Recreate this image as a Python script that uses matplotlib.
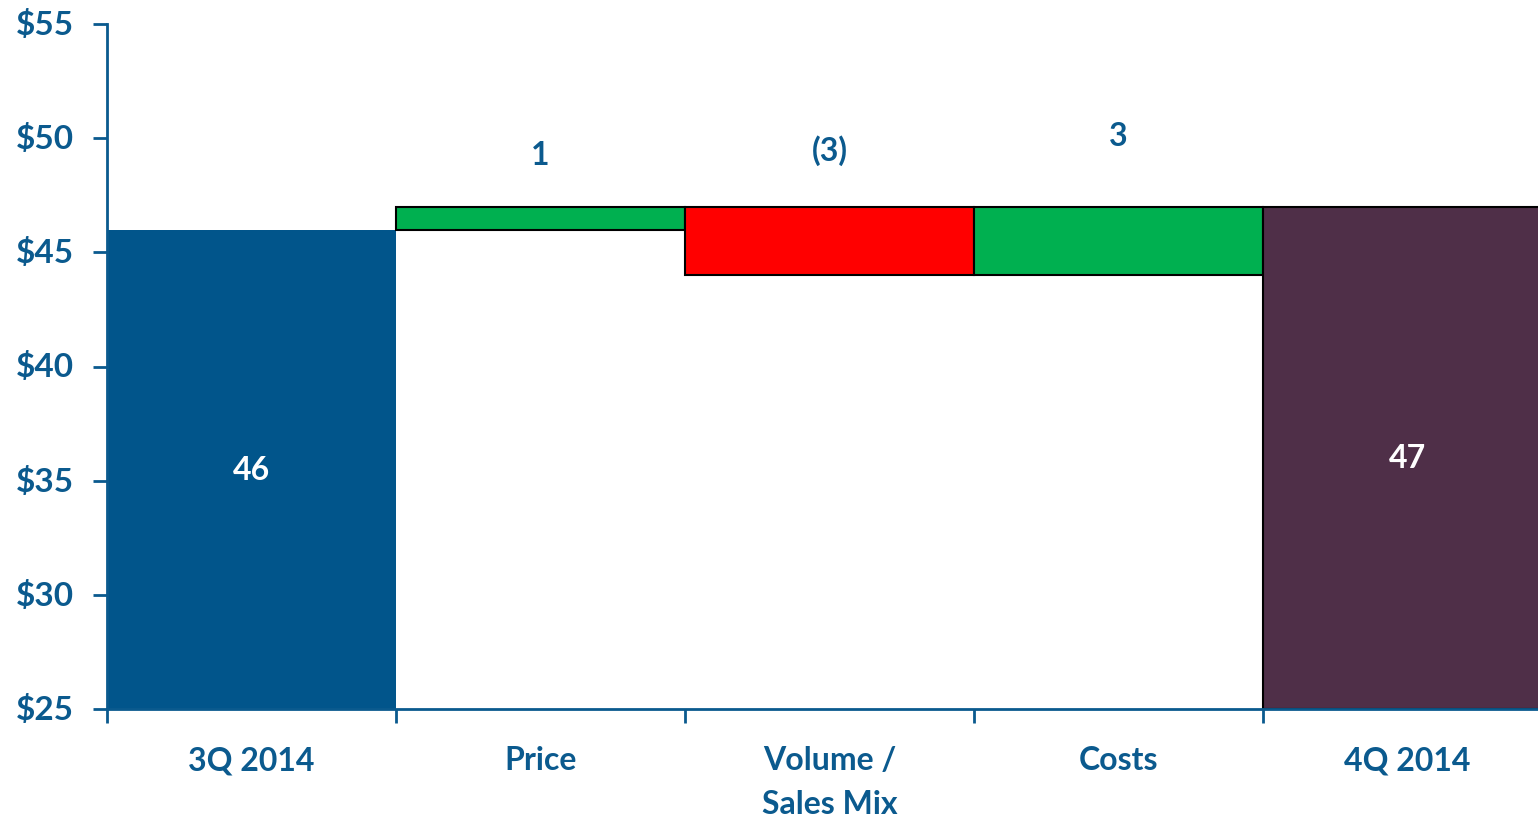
import numpy as np
import matplotlib.pyplot as plt

# Quarterly bridge: opening value, drivers, closing value
categories = ["3Q 2014", "Price", "Volume /\nSales Mix", "Costs", "4Q 2014"]
start_value = 46
changes = [1, -3, 3]
end_value = 47

text_blue = "#0B5A8E"
axis_blue = "#0A5A8E"
colors = ["#01558B", "#00B050", "#FF0000", "#00B050", "#4F2F48"]

plt.rcParams["font.family"] = ["Lato", "DejaVu Sans"]
plt.rcParams["font.weight"] = "bold"

# bottoms/heights of the floating bars
cum = start_value + np.cumsum([0] + changes)
bottoms = [25]
heights = [start_value - 25]
for prev, ch in zip(cum[:-1], changes):
    bottoms.append(min(prev, prev + ch))
    heights.append(abs(ch))
bottoms.append(25)
heights.append(end_value - 25)

fig = plt.figure(figsize=(15.38, 8.2), dpi=100)
ax = fig.add_axes([107 / 1538, 110 / 820, 1431 / 1538, 685 / 820])

x = np.arange(len(categories))
for i in range(len(categories)):
    edge = "none" if i == 0 else "black"
    ax.bar(x[i], heights[i], bottom=bottoms[i], width=1.0, color=colors[i],
           edgecolor=edge, linewidth=1.5, zorder=2)

fs = 23

# totals in white inside the bars
ax.text(x[0], 25 + heights[0] / 2, str(start_value), color="white",
        ha="center", va="center", fontsize=fs, fontweight="bold")
ax.text(x[-1], 25 + heights[-1] / 2, str(end_value), color="white",
        ha="center", va="center", fontsize=fs, fontweight="bold")

# driver labels above the bars
label_offsets = [2.3, 2.5, 3.1]
for i, ch in enumerate(changes):
    txt = f"({abs(ch)})" if ch < 0 else str(ch)
    top = max(cum[i], cum[i + 1])
    ax.text(x[i + 1], top + label_offsets[i], txt, color=text_blue,
            ha="center", va="center", fontsize=fs, fontweight="bold")

ax.set_ylim(25, 55)
ax.set_xlim(-0.5, -0.5 + 1431 / 289)
ax.set_yticks(np.arange(25, 56, 5))
ax.set_yticklabels([f"${v}" for v in range(25, 56, 5)], color=text_blue,
                   fontsize=24, fontweight="bold")
ax.set_xticks(x)
ax.set_xticklabels(categories, color=text_blue, fontsize=fs,
                   fontweight="bold", linespacing=1.6)
ax.set_xticks(np.arange(-0.5, len(categories) - 0.5, 1), minor=True)
ax.tick_params(axis="x", which="major", length=0, pad=26)
ax.tick_params(axis="x", which="minor", length=10, width=2, color=axis_blue,
               direction="out")
ax.tick_params(axis="y", length=10, width=2, color=axis_blue, pad=14)
for lbl in ax.get_yticklabels():
    lbl.set_verticalalignment("center")

for side in ["top", "right"]:
    ax.spines[side].set_visible(False)
for side in ["left", "bottom"]:
    ax.spines[side].set_color(axis_blue)
    ax.spines[side].set_linewidth(2)
    ax.spines[side].set_zorder(3)

fig.savefig("out.png", dpi=100)
